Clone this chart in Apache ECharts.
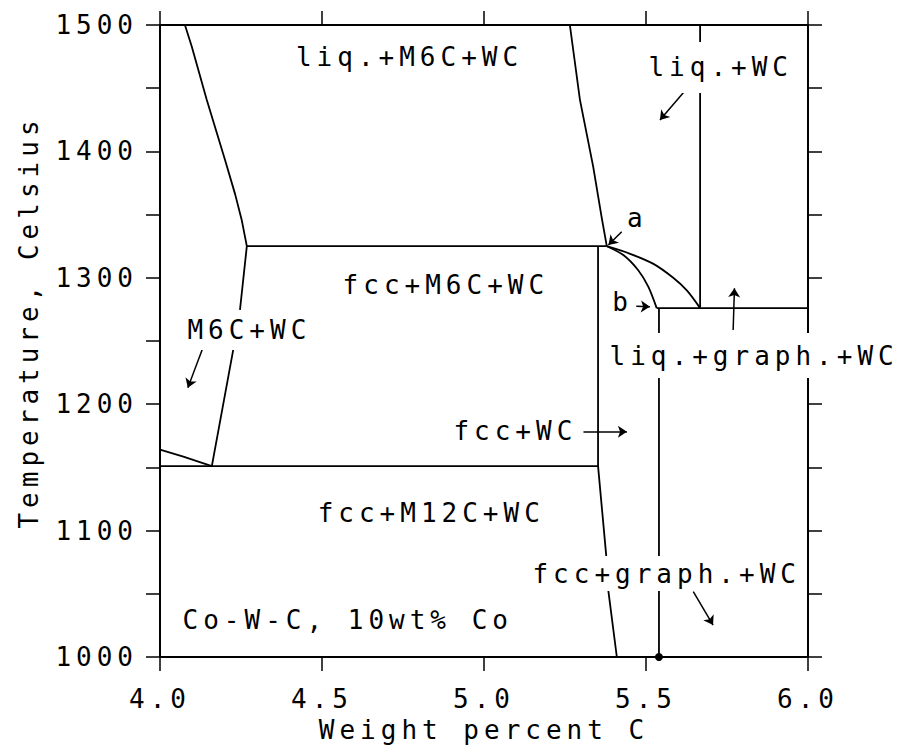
<!DOCTYPE html>
<html><head><meta charset="utf-8">
<style>
html,body{margin:0;padding:0;background:#fff}
#c{width:905px;height:749px}
#c text{letter-spacing:5px}
</style>
<script src="https://cdn.jsdelivr.net/npm/echarts@6/dist/echarts.min.js"></script>
</head><body><div id="c"></div>
<script>
// ---- axes ----
const X_MIN = 4.0, X_MAX = 6.0, X_STEP = 0.5;
const Y_MIN = 1000, Y_MAX = 1500, Y_STEP = 50, Y_LABEL_STEP = 100;
const X_NAME = 'Weight percent C';
const Y_NAME = 'Temperature, Celsius';

// ---- phase boundaries [wt% C, °C] ----
const liquidusLeft   = [[4.077,1500],[4.098,1483],[4.144,1441],[4.201,1393],[4.232,1366],[4.252,1346],[4.268,1325]];
const liquidusRight  = [[5.265,1500],[5.296,1441],[5.337,1388],[5.363,1348],[5.379,1325]];
const line1325       = [[4.268,1325],[5.379,1325]];
const m6cBoundary    = [[4.268,1325],[4.247,1275],[4.226,1243],[4.160,1151]];
const lowLeftCurve   = [[4.000,1164],[4.072,1158.5],[4.160,1151]];
const line1151       = [[4.000,1151],[5.352,1151]];
const fccBoundary    = [[5.352,1325],[5.352,1151],[5.377,1081],[5.384,1052],[5.410,1000]];
const curveUpper     = [[5.379,1325],[5.451,1319],[5.523,1311],[5.584,1300],[5.626,1290],[5.667,1276]];
const curveLower     = [[5.379,1325],[5.430,1318],[5.476,1306],[5.507,1293],[5.533,1276]];
const line1276       = [[5.533,1276],[6.000,1276]];
const wcLiqBoundary  = [[5.667,1500],[5.667,1276]];
const graphBoundary  = [[5.540,1276],[5.540,1000]];

// ---- labels: text, [left C, centre T] ----
const labelTexts = ['liq.+M6C+WC','liq.+WC','a','b','fcc+M6C+WC','M6C+WC','fcc+WC','fcc+M12C+WC','liq.+graph.+WC','fcc+graph.+WC','Co-W-C, 10wt% Co'];
const labelPos   = [[4.418,1475],[5.506,1466.4],[5.440,1347],[5.394,1280.5],[4.562,1294],[4.083,1258.7],[4.904,1179],[4.485,1114],[5.386,1238.5],[5.148,1066],[4.068,1029]];
// label box paddings (the white box opens the gaps in the lines behind the text)
const labelPad   = [null,[8,4,17,0],null,null,null,[4,4,10,0],null,null,[9,4,10,0],[3,4,6,0],null];

// ---- arrows: [from, to] ----
const arrows = [
  [[5.631,1451.2],[5.543,1424.8]],
  [[5.425,1336.5],[5.384,1326]],
  [[4.133,1245],[4.086,1213]],
  [[5.307,1178.3],[5.441,1178.3]],
  [[5.470,1277.5],[5.512,1277]],
  [[5.769,1258.7],[5.773,1291.7]],
  [[5.646,1051.7],[5.707,1025.3]]
];
const dots = [[5.540,1000]];

const FONT = 'DejaVu Sans Mono';
const FS = 26;
const BLACK = '#000';

const curved = [curveUpper, curveLower];
const boundaries = [liquidusLeft, liquidusRight, line1325, m6cBoundary, lowLeftCurve, line1151,
  fccBoundary, curveUpper, curveLower, line1276, wcLiqBoundary, graphBoundary];

const series = boundaries.map(d => ({
  type: 'line', data: d, symbol: 'none', silent: true, animation: false, clip: false, z: 2,
  smooth: curved.includes(d) ? 0.3 : false,
  lineStyle: {color: BLACK, width: 1.8}
}));

series.push({
  type: 'lines', coordinateSystem: 'cartesian2d', silent: true, animation: false, z: 3,
  symbol: ['none','arrow'], symbolSize: 9,
  lineStyle: {color: BLACK, width: 1.5, opacity: 1},
  data: arrows.map(a => ({coords: a}))
});

series.push({
  type: 'scatter', silent: true, animation: false, clip: false, z: 6,
  symbolSize: 1, itemStyle: {color: 'rgba(0,0,0,0)', opacity: 1},
  data: labelTexts.map((t, i) => {
    const item = {name: t, value: labelPos[i]};
    if (labelPad[i]) item.label = {backgroundColor: '#fff', padding: labelPad[i]};
    return item;
  }),
  label: {show: true, formatter: '{b}', position: 'right', distance: 0, opacity: 1,
    color: BLACK, fontFamily: FONT, fontSize: FS}
});

series.push({
  type: 'scatter', silent: true, animation: false, clip: false, z: 7,
  symbolSize: 8, itemStyle: {color: BLACK, opacity: 1}, data: dots
});

const axisLine = {show: true, onZero: false, lineStyle: {color: BLACK, width: 2}};
const tick = {show: true, inside: false, length: 14, lineStyle: {color: BLACK, width: 1.5}};
const txt = {color: BLACK, fontFamily: FONT, fontSize: FS};

const option = {
  animation: false,
  backgroundColor: '#fff',
  grid: {left: 160, right: 97, top: 25, bottom: 92, containLabel: false, outerBoundsMode: 'none'},
  xAxis: [
    {type: 'value', position: 'bottom', min: X_MIN, max: X_MAX, interval: X_STEP,
     axisLine, axisTick: tick, splitLine: {show: false},
     axisLabel: Object.assign({formatter: v => v.toFixed(1), margin: 29, showMinLabel: true, showMaxLabel: true}, txt),
     name: X_NAME, nameLocation: 'middle', nameGap: 55, nameTextStyle: txt},
    {type: 'value', position: 'top', min: X_MIN, max: X_MAX, interval: X_STEP,
     axisLine, axisTick: tick, splitLine: {show: false}, axisLabel: {show: false}}
  ],
  yAxis: [
    {type: 'value', position: 'left', min: Y_MIN, max: Y_MAX, interval: Y_STEP,
     axisLine, axisTick: tick, splitLine: {show: false},
     axisLabel: Object.assign({formatter: v => (v % Y_LABEL_STEP === 0 ? String(v) : ''), margin: 22, interval: 0, showMinLabel: true, showMaxLabel: true}, txt),
     name: Y_NAME, nameLocation: 'middle', nameGap: 118,
     nameTextStyle: Object.assign({padding: [0, 0, 0, 38]}, txt)},
    {type: 'value', position: 'right', min: Y_MIN, max: Y_MAX, interval: Y_STEP,
     axisLine, axisTick: tick, splitLine: {show: false}, axisLabel: {show: false}}
  ],
  series
};

const chart = echarts.init(document.getElementById('c'), null, {renderer: 'svg'});
chart.setOption(option);
</script>
</body></html>
